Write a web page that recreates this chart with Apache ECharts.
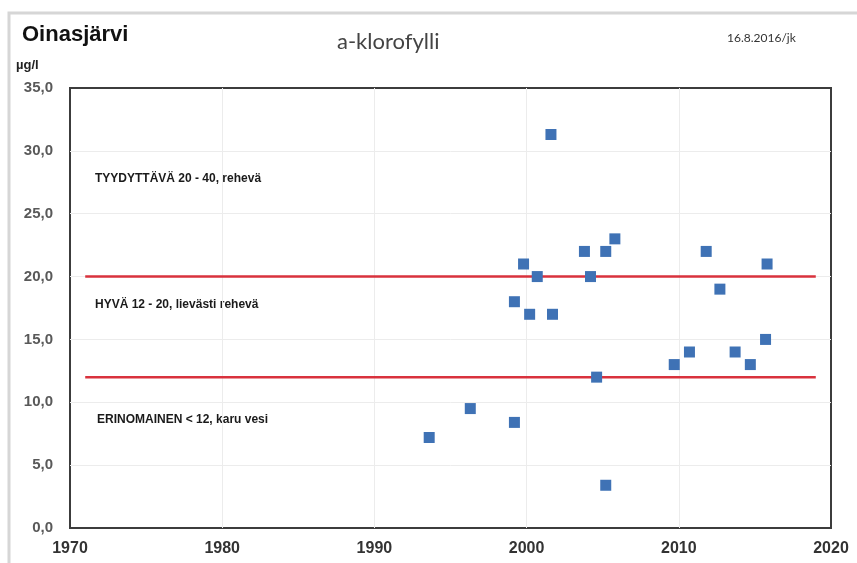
<html>
<head>
<meta charset="utf-8">
<title>Oinasjärvi a-klorofylli</title>
<script src="https://cdn.jsdelivr.net/npm/echarts@6/dist/echarts.min.js"></script>
</head>
<style>
	body { margin: 0; background: #fff; }
	#main { width: 857px; height: 563px; }
</style>
<body>
<div id="main"></div>
<script type="text/javascript">
	// mittaukset: vuosi, a-klorofylli µg/l
	var years = [1993.6, 1996.3, 1999.2, 1999.2, 1999.8, 2000.2, 2000.7, 2001.6, 2001.7,
		2003.8, 2004.2, 2004.6, 2005.2, 2005.2, 2005.8, 2009.7, 2010.7, 2011.8,
		2012.7, 2013.7, 2014.7, 2015.7, 2015.8];
	var values = [7.2, 9.5, 8.4, 18, 21, 17, 20, 31.3, 17,
		22, 20, 12, 22, 3.4, 23, 13, 14, 22,
		19, 14, 13, 15, 21];
	// luokkarajat
	var limits = [20, 12];
	var limitRange = [1971, 2019];
	var classLabels = ['TYYDYTTÄVÄ 20 - 40, rehevä', 'HYVÄ 12 - 20, lievästi rehevä', 'ERINOMAINEN < 12, karu vesi'];

	var points = years.map(function (y, i) { return [y, values[i]]; });

	var series = [{
		name: 'a-klorofylli',
		type: 'scatter',
		symbol: 'rect',
		symbolSize: 11,
		itemStyle: { color: '#3f72b5', opacity: 1 },
		z: 3,
		data: points
	}];
	limits.forEach(function (v) {
		series.push({
			type: 'line',
			symbol: 'none',
			silent: true,
			lineStyle: { color: '#d9323d', width: 2.5 },
			z: 2,
			data: [[limitRange[0], v], [limitRange[1], v]]
		});
	});

	var labelStyle = { fontFamily: 'Liberation Sans', fontWeight: 'bold', fontSize: 12, fill: '#1a1a1a' };

	var myChart = echarts.init(document.getElementById('main'));
	myChart.setOption({
		animation: false,
		backgroundColor: '#fff',
		grid: {
			left: 70, right: 26, top: 88, bottom: 35,
			show: true, borderColor: '#3c3c3c', borderWidth: 2
		},
		xAxis: {
			type: 'value',
			min: 1970, max: 2020, interval: 10,
			axisLine: { show: false },
			axisTick: { show: false },
			axisLabel: {
				margin: 13,
				color: '#333',
				fontFamily: 'Liberation Sans', fontWeight: 'bold', fontSize: 16,
				formatter: function (v) { return String(v); }
			},
			splitLine: { showMinLine: false, showMaxLine: false, lineStyle: { color: '#ececec', width: 1 } }
		},
		yAxis: {
			type: 'value',
			min: 0, max: 35, interval: 5,
			axisLine: { show: false },
			axisTick: { show: false },
			axisLabel: {
				margin: 17,
				color: '#595959',
				fontFamily: 'Liberation Sans', fontWeight: 'bold', fontSize: 15,
				formatter: function (v) { return v.toFixed(1).replace('.', ','); }
			},
			splitLine: { showMinLine: false, showMaxLine: false, lineStyle: { color: '#ececec', width: 1 } }
		},
		graphic: [
			{ type: 'polyline', shape: { points: [[9, 563], [9, 13], [857, 13]] }, style: { stroke: '#d6d6d6', lineWidth: 3, fill: null } },
			{ type: 'text', left: 22, top: 24, style: { text: 'Oinasjärvi', fontFamily: 'Liberation Sans', fontWeight: 'bold', fontSize: 22, fill: '#111' } },
			{ type: 'text', left: 337, top: 31, style: { text: 'a-klorofylli', fontFamily: 'Lato', fontSize: 22, fill: '#444' } },
			{ type: 'text', left: 727, top: 32, style: { text: '16.8.2016/jk', fontFamily: 'Lato', fontSize: 12, fill: '#333' } },
			{ type: 'text', left: 16, top: 59, style: { text: 'µg/l', fontFamily: 'Liberation Sans', fontWeight: 'bold', fontSize: 13, fill: '#222' } },
			{ type: 'text', left: 95, top: 173, style: Object.assign({ text: classLabels[0] }, labelStyle) },
			{ type: 'text', left: 95, top: 299, style: Object.assign({ text: classLabels[1] }, labelStyle) },
			{ type: 'text', left: 97, top: 414, style: Object.assign({ text: classLabels[2] }, labelStyle) }
		],
		series: series
	});
</script>
</body>
</html>
